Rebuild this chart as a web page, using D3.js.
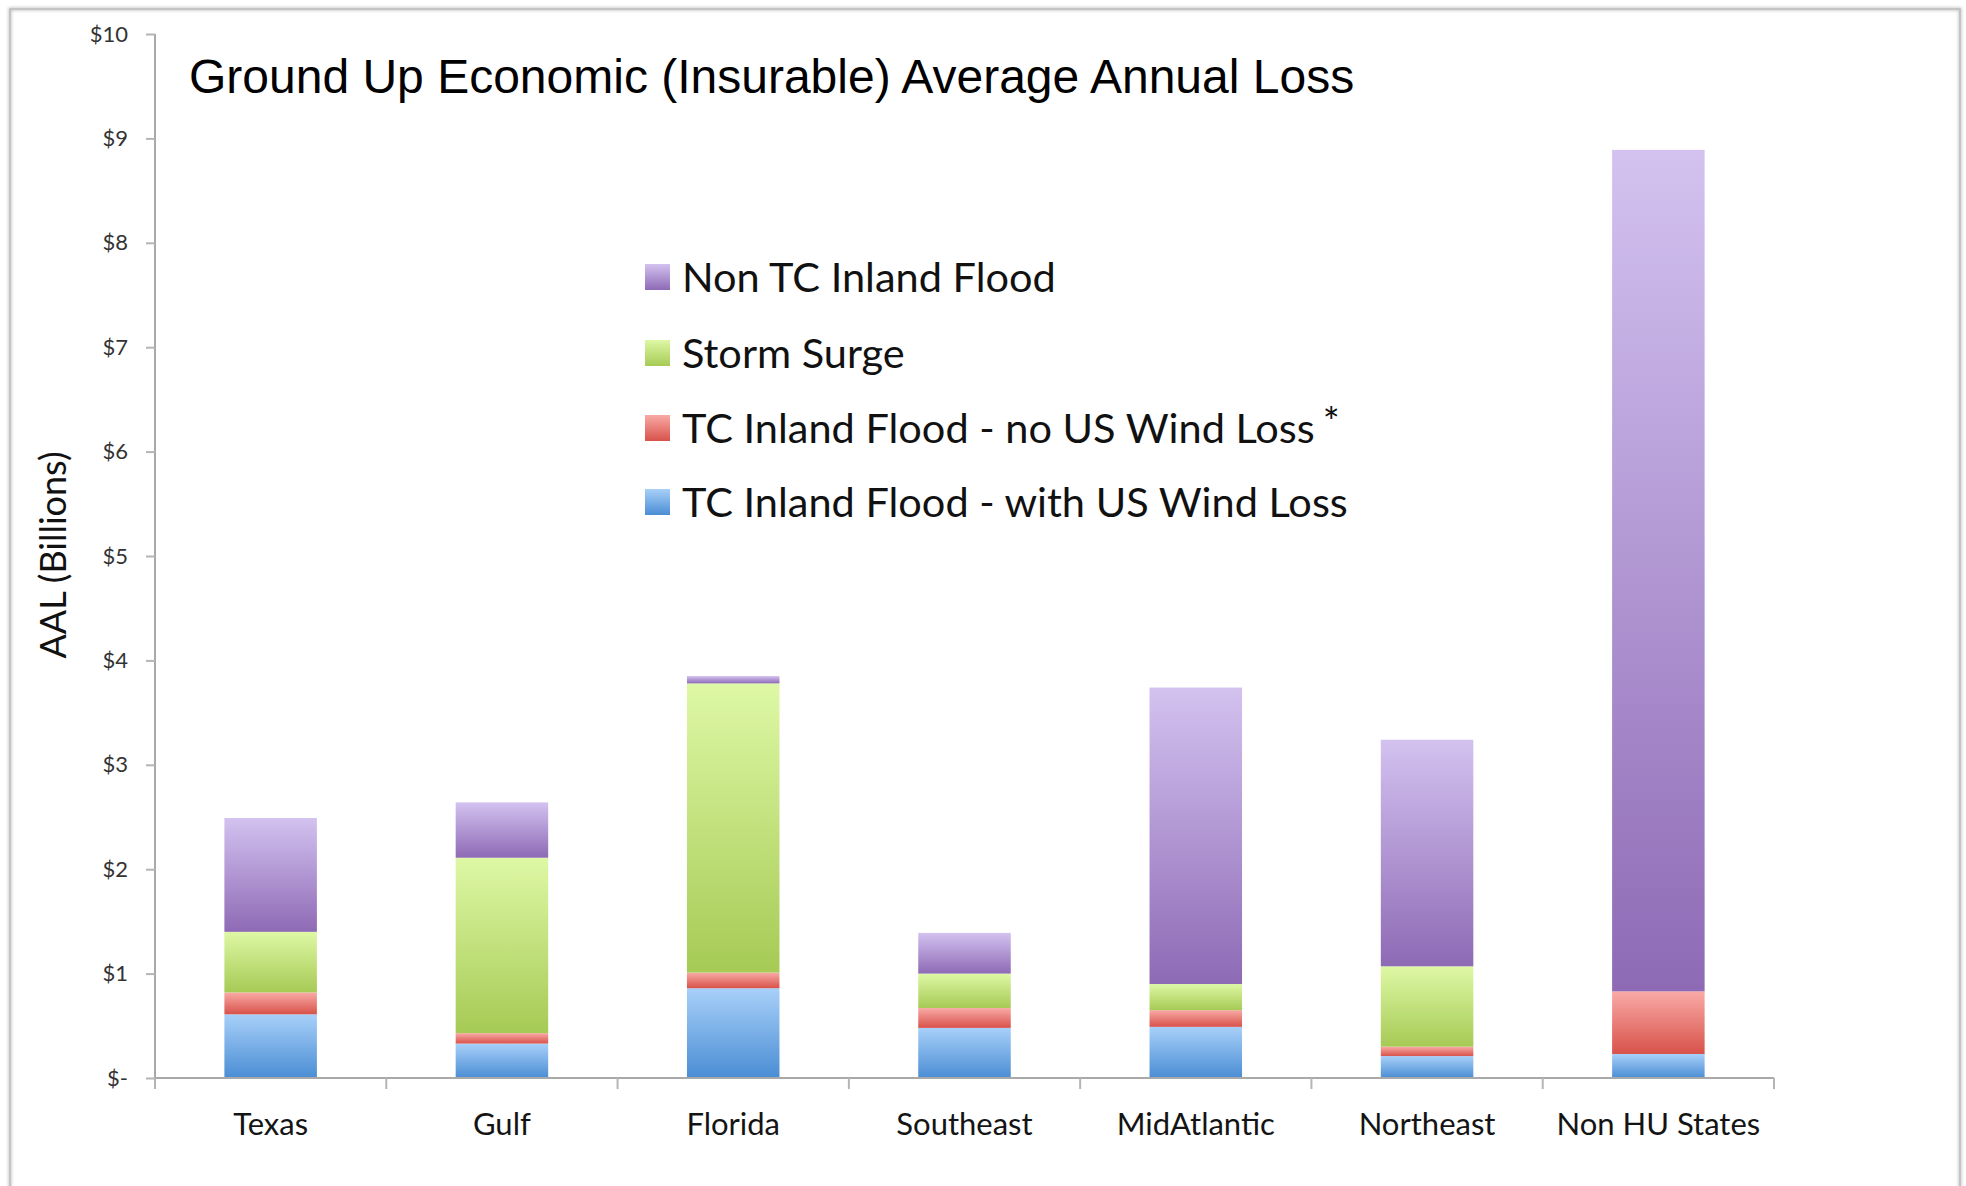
<!DOCTYPE html>
<html>
<head>
<meta charset="utf-8">
<script src="https://cdn.jsdelivr.net/npm/d3@7/dist/d3.min.js"></script>
<style>
  html, body { margin: 0; padding: 0; background: #ffffff; }
  svg { display: block; }
</style>
</head>
<body>
<script>
// Regions along the x axis
const categories = ["Texas", "Gulf", "Florida", "Southeast", "MidAtlantic", "Northeast", "Non HU States"];

// Average annual loss by component, $ billions (stacked bottom to top)
const tcWithWind = [0.61, 0.33, 0.86, 0.48, 0.49, 0.21, 0.23];
const tcNoWind   = [0.21, 0.10, 0.15, 0.19, 0.16, 0.09, 0.60];
const stormSurge = [0.58, 1.68, 2.77, 0.33, 0.25, 0.77, 0.00];
const nonTcFlood = [1.09, 0.53, 0.07, 0.39, 2.84, 2.17, 8.06];

const seriesNames = ["TC Inland Flood - with US Wind Loss", "TC Inland Flood - no US Wind Loss", "Storm Surge", "Non TC Inland Flood"];

// Y axis ticks and their labels
const yTicks = [0, 1, 2, 3, 4, 5, 6, 7, 8, 9, 10];
const yTickLabels = ["$-", "$1", "$2", "$3", "$4", "$5", "$6", "$7", "$8", "$9", "$10"];

const W = 1966, H = 1186;
const plot = { left: 155, right: 1774, top: 34, bottom: 1078 };

const svg = d3.select("body").append("svg").attr("width", W).attr("height", H);

// Gradient fills: lighter at the top of each segment, darker at the bottom
const gradStops = [
  { id: "g-blue",   top: "#a8d0f9", bottom: "#4a8dd4" },
  { id: "g-red",    top: "#f9aaa6", bottom: "#d8524a" },
  { id: "g-green",  top: "#def8a5", bottom: "#a6ca55" },
  { id: "g-purple", top: "#d3c2f0", bottom: "#8e6ab5" }
];
const defs = svg.append("defs");
gradStops.forEach(g => {
  const lg = defs.append("linearGradient").attr("id", g.id)
    .attr("x1", 0).attr("y1", 0).attr("x2", 0).attr("y2", 1);
  lg.append("stop").attr("offset", "0%").attr("stop-color", g.top);
  lg.append("stop").attr("offset", "100%").attr("stop-color", g.bottom);
});
const shadow = defs.append("filter").attr("id", "frame-shadow")
  .attr("x", "-2%").attr("y", "-2%").attr("width", "104%").attr("height", "104%");
shadow.append("feGaussianBlur").attr("stdDeviation", 1.5);

// Chart frame
svg.append("rect").attr("x", 10).attr("y", 9).attr("width", 1950).attr("height", 1240)
  .attr("fill", "none").attr("stroke", "#c4c4c4").attr("stroke-width", 3).attr("filter", "url(#frame-shadow)");
svg.append("rect").attr("x", 10).attr("y", 9).attr("width", 1950).attr("height", 1240)
  .attr("fill", "none").attr("stroke", "#bdbdbd").attr("stroke-width", 1.5);

const x = d3.scaleBand().domain(categories).range([plot.left, plot.right]).paddingInner(0.6).paddingOuter(0.3);
const y = d3.scaleLinear().domain([0, 10]).range([plot.bottom, plot.top]);

// Stacked data
const rows = categories.map((c, i) => ({
  category: c,
  [seriesNames[0]]: tcWithWind[i],
  [seriesNames[1]]: tcNoWind[i],
  [seriesNames[2]]: stormSurge[i],
  [seriesNames[3]]: nonTcFlood[i]
}));
const stacked = d3.stack().keys(seriesNames)(rows);
const fills = ["url(#g-blue)", "url(#g-red)", "url(#g-green)", "url(#g-purple)"];

const layers = svg.append("g").selectAll("g").data(stacked).join("g")
  .attr("fill", (d, i) => fills[i]);
layers.selectAll("rect").data(d => d.filter(s => s[1] - s[0] > 0)).join("rect")
  .attr("x", d => x(d.data.category))
  .attr("width", x.bandwidth())
  .attr("y", d => y(d[1]))
  .attr("height", d => y(d[0]) - y(d[1]));

// Y axis
const yAxis = d3.axisLeft(y).tickValues(yTicks).tickFormat((d, i) => yTickLabels[i]).tickSize(9).tickPadding(18);
const gy = svg.append("g").attr("transform", `translate(${plot.left},0)`).call(yAxis);
gy.select(".domain").attr("stroke", "#a9a9a9").attr("stroke-width", 2).attr("d", `M0,${plot.top}V${plot.bottom}`);
gy.selectAll(".tick line").attr("stroke", "#b5b5b5").attr("stroke-width", 2);
gy.selectAll(".tick text").attr("fill", "#333").style("font-family", "Lato, 'Open Sans', sans-serif").style("font-size", "22px");

// X axis: category ticks sit at band boundaries
const xEdges = d3.range(categories.length + 1).map(i => plot.left + i * (plot.right - plot.left) / categories.length);
const gx = svg.append("g");
gx.append("line").attr("x1", plot.left).attr("x2", plot.right).attr("y1", plot.bottom).attr("y2", plot.bottom)
  .attr("stroke", "#a9a9a9").attr("stroke-width", 2);
gx.selectAll("line.edge").data(xEdges).join("line").attr("class", "edge")
  .attr("x1", d => d).attr("x2", d => d).attr("y1", plot.bottom).attr("y2", plot.bottom + 11)
  .attr("stroke", "#b5b5b5").attr("stroke-width", 2);
gx.selectAll("text").data(categories).join("text")
  .attr("x", d => x(d) + x.bandwidth() / 2)
  .attr("y", 1135)
  .attr("text-anchor", "middle")
  .attr("fill", "#141414")
  .style("font-family", "Lato, 'Open Sans', sans-serif")
  .style("font-size", "31px")
  .text(d => d);

// Y axis title
svg.append("text")
  .attr("transform", "translate(66,555) rotate(-90)")
  .attr("text-anchor", "middle")
  .attr("fill", "#111")
  .style("font-family", "Lato, 'Open Sans', sans-serif")
  .style("font-size", "36px")
  .text("AAL (Billions)");

// Title
svg.append("text")
  .attr("x", 189).attr("y", 93)
  .attr("fill", "#000")
  .style("font-family", "'Liberation Sans', Arial, sans-serif")
  .style("font-size", "48px")
  .text("Ground Up Economic (Insurable) Average Annual Loss");

// Legend (top series listed first)
const legendOrder = [3, 2, 1, 0];
const legendY = [278, 354, 429, 503];
const lg = svg.append("g");
legendOrder.forEach((si, row) => {
  const cy = legendY[row];
  lg.append("rect").attr("x", 645).attr("y", cy - 14).attr("width", 25).attr("height", 26).attr("fill", fills[si]);
  const t = lg.append("text").attr("x", 682).attr("y", cy + 14)
    .attr("fill", "#111")
    .style("font-family", "Lato, 'Open Sans', sans-serif")
    .style("font-size", "41.5px")
    .text(seriesNames[si]);
  if (si === 1) {
    t.append("tspan").attr("dx", 8).attr("dy", -6).style("font-size", "40px").text("*");
  }
});
</script>
</body>
</html>
